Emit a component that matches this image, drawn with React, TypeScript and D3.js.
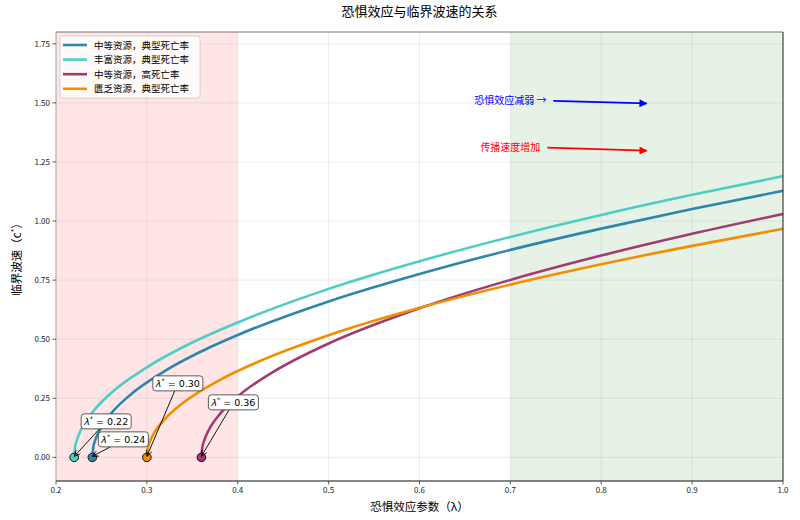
import * as React from 'react'
import * as d3 from 'd3'

// 临界波速 c* 随恐惧效应参数 λ 的变化（从图上读取的点）
const tealLambda = [0.22, 0.221, 0.2225, 0.225, 0.23, 0.24, 0.26, 0.30, 0.35, 0.40, 0.50, 0.60, 0.70, 0.80, 0.90, 1.00]
const tealSpeed = [0, 0.043, 0.067, 0.095, 0.135, 0.19, 0.27, 0.381, 0.486, 0.571, 0.713, 0.830, 0.933, 1.026, 1.111, 1.19]

const blueLambda = [0.24, 0.241, 0.2425, 0.245, 0.25, 0.26, 0.28, 0.32, 0.37, 0.40, 0.50, 0.60, 0.70, 0.80, 0.90, 1.00]
const blueSpeed = [0, 0.041, 0.065, 0.091, 0.129, 0.183, 0.259, 0.366, 0.467, 0.518, 0.660, 0.776, 0.878, 0.968, 1.051, 1.128]

const magentaLambda = [0.36, 0.361, 0.3625, 0.365, 0.37, 0.38, 0.40, 0.44, 0.49, 0.50, 0.60, 0.70, 0.80, 0.90, 1.00]
const magentaSpeed = [0, 0.041, 0.064, 0.091, 0.129, 0.182, 0.2575, 0.364, 0.464, 0.482, 0.631, 0.751, 0.854, 0.946, 1.03]

const orangeLambda = [0.30, 0.301, 0.3025, 0.305, 0.31, 0.32, 0.34, 0.38, 0.43, 0.50, 0.60, 0.70, 0.80, 0.90, 1.00]
const orangeSpeed = [0, 0.037, 0.058, 0.082, 0.116, 0.163, 0.231, 0.327, 0.417, 0.517, 0.633, 0.731, 0.817, 0.895, 0.967]

const seriesNames = ['中等资源，典型死亡率', '丰富资源，典型死亡率', '中等资源，高死亡率', '匮乏资源，典型死亡率']
const criticalLambda = [0.24, 0.22, 0.36, 0.30]

const xTicks = [0.2, 0.3, 0.4, 0.5, 0.6, 0.7, 0.8, 0.9, 1.0]
const yTicks = [0, 0.25, 0.5, 0.75, 1.0, 1.25, 1.5, 1.75]

const W = 800
const H = 520
const left = 56
const right = 783
const top = 32
const bottom = 481

const colors = ['#2E86AB', '#4ECDC4', '#A23B72', '#F18F01']
// annotation box offsets (px) from each critical point, same order as seriesNames
const labelOffsets = [[31, -18], [32, -36], [32, -55], [31, -74]]

const cjk = '"Noto Sans CJK SC", "Noto Sans", sans-serif'

const App = () => {
  const x = d3.scaleLinear().domain([0.2, 1.0]).range([left, right])
  const y = d3.scaleLinear().domain([-0.1, 1.8]).range([bottom, top])

  const line = d3.line<[number, number]>()
    .x(d => x(d[0]))
    .y(d => y(d[1]))
    .curve(d3.curveMonotoneX)

  const series = [
    d3.zip(blueLambda, blueSpeed),
    d3.zip(tealLambda, tealSpeed),
    d3.zip(magentaLambda, magentaSpeed),
    d3.zip(orangeLambda, orangeSpeed),
  ] as [number, number][][]

  const drawOrder = [0, 1, 2, 3]

  const boxW = 50
  const boxH = 15

  return (
    <div style={{position: 'fixed', left: 0, top: 0, width: W, height: H, background: '#fff'}}>
      <svg width={W} height={H} style={{display: 'block'}}>
        <defs>
          <marker id="openHead" viewBox="0 0 10 10" refX="9.5" refY="5" markerWidth="7" markerHeight="7" orient="auto" markerUnits="userSpaceOnUse">
            <path d="M1,1 L9.5,5 L1,9" fill="none" stroke="#000" strokeWidth="1.2" />
          </marker>
          <marker id="blueHead" viewBox="0 0 10 10" refX="9" refY="5" markerWidth="9" markerHeight="8" orient="auto" markerUnits="userSpaceOnUse">
            <path d="M0,0 L10,5 L0,10 z" fill="blue" />
          </marker>
          <marker id="redHead" viewBox="0 0 10 10" refX="9" refY="5" markerWidth="9" markerHeight="8" orient="auto" markerUnits="userSpaceOnUse">
            <path d="M0,0 L10,5 L0,10 z" fill="red" />
          </marker>
        </defs>

        {/* shaded regions */}
        <rect x={x(0.2)} y={top} width={x(0.4) - x(0.2)} height={bottom - top} fill="rgba(255,0,0,0.1)" />
        <rect x={x(0.7)} y={top} width={x(1.0) - x(0.7)} height={bottom - top} fill="rgba(0,128,0,0.1)" />

        {/* grid */}
        {xTicks.map(t => (
          <line key={'gx' + t} x1={x(t)} x2={x(t)} y1={top} y2={bottom} stroke="#b0b0b0" strokeOpacity={0.3} strokeWidth={0.8} />
        ))}
        {yTicks.map(t => (
          <line key={'gy' + t} x1={left} x2={right} y1={y(t)} y2={y(t)} stroke="#b0b0b0" strokeOpacity={0.3} strokeWidth={0.8} />
        ))}

        {/* curves */}
        {drawOrder.map(i => (
          <path key={'l' + i} d={line(series[i]) || ''} fill="none" stroke={colors[i]} strokeWidth={2.6} />
        ))}

        {/* critical points */}
        {drawOrder.map(i => (
          <circle key={'c' + i} cx={x(criticalLambda[i])} cy={y(0)} r={4.3} fill={colors[i]} stroke="#111" strokeWidth={1} />
        ))}

        {/* annotations */}
        {criticalLambda.map((lam, i) => {
          const px = x(lam)
          const py = y(0)
          const cx = px + labelOffsets[i][0]
          const cy = py + labelOffsets[i][1]
          const dx = px - cx
          const dy = py - cy
          const s = Math.min((boxW / 2) / Math.abs(dx), (boxH / 2) / Math.abs(dy))
          const sx = cx + dx * s
          const sy = cy + dy * s
          return (
            <g key={'a' + i}>
              <line x1={sx} y1={sy} x2={px} y2={py - 1} stroke="#000" strokeWidth={0.9} markerEnd="url(#openHead)" />
              <rect x={cx - boxW / 2} y={cy - boxH / 2} width={boxW} height={boxH} rx={3} fill="#fff" stroke="#333" strokeWidth={0.8} />
              <text x={cx} y={cy + 3.5} textAnchor="middle" fontSize={9.5} fontFamily='"DejaVu Sans", sans-serif' fill="#000">
                <tspan fontStyle="italic">λ</tspan>
                <tspan fontSize={6.5} dy={-4}>*</tspan>
                <tspan dy={4}>{' = ' + lam.toFixed(2)}</tspan>
              </text>
            </g>
          )
        })}

        {/* region notes */}
        <text x={x(0.7)} y={y(1.5) + 1.5} textAnchor="middle" fontSize={10} fontFamily={cjk} fill="blue">恐惧效应减弱 →</text>
        <line x1={x(0.7) + 43} y1={y(1.5) - 2} x2={x(0.85)} y2={y(1.5) + 0.5} stroke="blue" strokeWidth={1.6} markerEnd="url(#blueHead)" />
        <text x={x(0.7)} y={y(1.3) + 0.5} textAnchor="middle" fontSize={10} fontFamily={cjk} fill="red">传播速度增加</text>
        <line x1={x(0.7) + 37} y1={y(1.3) - 2.5} x2={x(0.85)} y2={y(1.3) + 0.5} stroke="red" strokeWidth={1.6} markerEnd="url(#redHead)" />

        {/* spines */}
        <line x1={left} x2={left} y1={top} y2={bottom} stroke="#aaa" strokeWidth={1} />
        <line x1={left} x2={right} y1={top} y2={top} stroke="#777" strokeWidth={1} />
        <line x1={right} x2={right} y1={top} y2={bottom} stroke="#222" strokeWidth={1} />
        <line x1={left} x2={right} y1={bottom} y2={bottom} stroke="#111" strokeWidth={1.2} />

        {/* x axis */}
        {xTicks.map(t => (
          <g key={'xt' + t}>
            <line x1={x(t)} x2={x(t)} y1={bottom} y2={bottom + 3.5} stroke="#333" strokeWidth={0.8} />
            <text x={x(t)} y={bottom + 12} textAnchor="middle" fontSize={8} fontFamily={cjk} fill="#222">{d3.format('.1f')(t)}</text>
          </g>
        ))}
        {/* y axis */}
        {yTicks.map(t => (
          <g key={'yt' + t}>
            <line x1={left - 3.5} x2={left} y1={y(t)} y2={y(t)} stroke="#333" strokeWidth={0.8} />
            <text x={left - 6} y={y(t) + 3} textAnchor="end" fontSize={8} fontFamily={cjk} fill="#222">{d3.format('.2f')(t)}</text>
          </g>
        ))}

        <text x={(left + right) / 2} y={511} textAnchor="middle" fontSize={11.5} fontFamily={cjk} fill="#000">恐惧效应参数（λ）</text>
        <text transform={`translate(21, ${(top + bottom) / 2}) rotate(-90)`} textAnchor="middle" fontSize={11.5} fontFamily={cjk} fill="#000">
          临界波速（c<tspan fontSize={7.5} dy={-4}>*</tspan><tspan dy={4}>）</tspan>
        </text>
        <text x={(left + right) / 2} y={16} textAnchor="middle" fontSize={13} fontFamily={cjk} fill="#000">恐惧效应与临界波速的关系</text>

        {/* legend */}
        <g>
          <rect x={60} y={36} width={140} height={62} rx={3} fill="#fff" fillOpacity={0.85} stroke="#ccc" strokeWidth={0.8} />
          {seriesNames.map((name, i) => (
            <g key={'lg' + i} transform={`translate(63, ${45 + i * 14.6})`}>
              <line x1={0} x2={24} y1={0} y2={0} stroke={colors[i]} strokeWidth={2.6} />
              <text x={31} y={3.5} fontSize={9.5} fontFamily={cjk} fill="#000">{name}</text>
            </g>
          ))}
        </g>
      </svg>
    </div>
  )
}

export default App
